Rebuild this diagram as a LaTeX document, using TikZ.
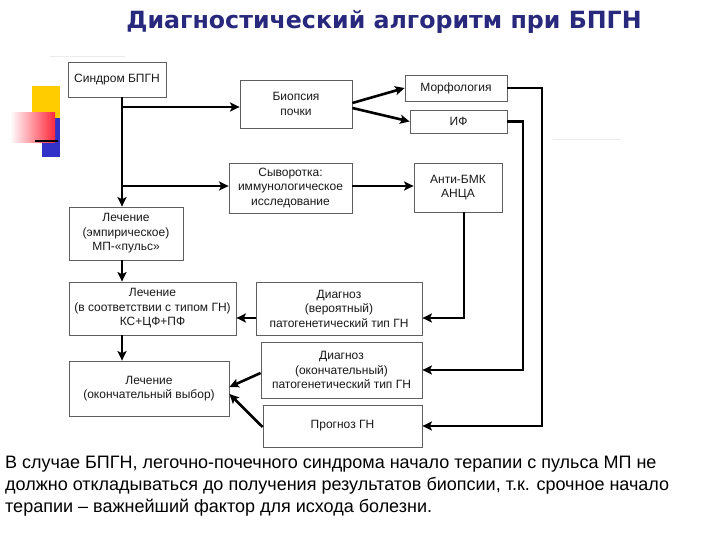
\documentclass[tikz,border=0pt]{standalone}
\usepackage{fontspec}
\setmainfont{Liberation Sans}
\newfontfamily\titlefont{DejaVu Sans}
\usetikzlibrary{arrows.meta,calc}
\definecolor{navy}{RGB}{40,40,125}
\definecolor{boxline}{RGB}{95,95,95}
\definecolor{boxtext}{RGB}{25,25,25}
\definecolor{decoyellow}{RGB}{255,204,0}
\definecolor{decoblue}{RGB}{50,50,200}
\definecolor{decored}{RGB}{255,40,60}
\begin{document}
\begin{tikzpicture}[x=1pt,y=-1pt,
  box/.style={draw=boxline, line width=0.8pt, fill=white, align=center,
    inner sep=0pt, text=boxtext, font=\fontsize{12}{14.5}\selectfont},
  conn/.style={line width=2.6pt, line join=miter, -{Stealth[length=9.5pt,width=9pt,inset=2pt]}},
  notetext/.style={anchor=base west, inner sep=0pt, font=\fontsize{18}{22}\selectfont}]
\useasboundingbox[fill=white] (0,0) rectangle (720,540);
% decoration
\fill[decoyellow] (32,86) rectangle (60,118);
\fill[decoblue] (42,118) rectangle (60,157);
\shade[left color=white, right color=decored] (10,113) rectangle (55,143);
\draw[line width=2pt] (35,141) -- (58,141);
\draw[black!8, line width=1pt] (553,140) -- (620,140);
\draw[black!8, line width=1pt] (50,57) -- (125,57);
% title
\node[font=\titlefont\bfseries\fontsize{23.7}{26}\selectfont, text=navy, inner sep=0pt] (title) at (384,22) {Диагностический алгоритм при БПГН};
% boxes
\node[box, minimum width=98pt, minimum height=35pt] (synd) at (117,79.5) {Синдром БПГН};
\node[box, minimum width=112pt, minimum height=48pt] (biop) at (296,104) {Биопсия\\почки};
\node[box, minimum width=102pt, minimum height=26pt] (morph) at (456,88) {Морфология};
\node[box, minimum width=97pt, minimum height=23pt] (if) at (458.5,121.5) {ИФ};
\node[box, minimum width=123pt, minimum height=50pt] (syv) at (290.5,188) {Сыворотка:\\иммунологическое\\исследование};
\node[box, minimum width=88pt, minimum height=49pt] (anti) at (458,187.5) {Анти-БМК\\АНЦА};
\node[box, minimum width=114pt, minimum height=53pt] (lech1) at (126,233.5) {Лечение\\(эмпирическое)\\МП-«пульс»};
\node[box, minimum width=167pt, minimum height=53pt] (lech2) at (152.5,308.5) {Лечение\\(в соответствии с типом ГН)\\КС+ЦФ+ПФ};
\node[box, minimum width=166pt, minimum height=53pt] (diag1) at (339,308.5) {Диагноз\\(вероятный)\\патогенетический тип ГН};
\node[box, minimum width=161pt, minimum height=56pt] (diag2) at (341.5,370) {Диагноз\\(окончательный)\\патогенетический тип ГН};
\node[box, minimum width=159pt, minimum height=42pt] (progn) at (342.5,426) {Прогноз ГН};
\node[box, minimum width=160pt, minimum height=55pt] (lech3) at (149,388.5) {Лечение\\(окончательный выбор)};
% helper coordinates
\coordinate (tr) at (122,0);
\coordinate (b1) at (122,107);
\coordinate (b2) at (122,186);
\coordinate (c1) at (542,0);
\coordinate (c2) at (523,0);
\coordinate (c3) at (464,0);
\coordinate (r1) at (0,318);
% connectors
\draw[conn] (synd.south -| tr) -- (lech1.north -| tr);
\draw[conn] (b1) -- (b1 -| biop.west);
\draw[conn] (b2) -- (b2 -| syv.west);
\draw[conn] ($(biop.east)+(0,-1)$) -- (morph.west);
\draw[conn] ($(biop.east)+(0,4)$) -- (if.west);
\draw[conn] (syv.east |- b2) -- (b2 -| anti.west);
\draw[conn] (morph.east) -- (morph.east -| c1) -- (progn.east -| c1) -- (progn.east);
\draw[conn] (if.east) -- (if.east -| c2) -- (diag2.east -| c2) -- (diag2.east);
\draw[conn] (anti.south -| c3) -- (r1 -| c3) -- (r1 -| diag1.east);
\draw[conn] (r1 -| diag1.west) -- (r1 -| lech2.east);
\draw[conn] (lech1.south -| tr) -- (lech2.north -| tr);
\draw[conn] (lech2.south -| tr) -- (lech3.north -| tr);
\draw[conn] ($(diag2.west)+(0,3)$) -- ($(lech3.east)+(0,-1.5)$);
\draw[conn] ($(progn.west)+(0,1)$) -- ($(lech3.east)+(0,5.5)$);
% note
\node[notetext] (note1) at (5,468) {В случае БПГН, легочно-почечного синдрома начало терапии с пульса МП не};
\node[notetext] (note2) at (5,490) {должно откладываться до получения результатов биопсии, т.к. срочное начало};
\node[notetext] (note3) at (5,512) {терапии – важнейший фактор для исхода болезни.};
\end{tikzpicture}
\end{document}
